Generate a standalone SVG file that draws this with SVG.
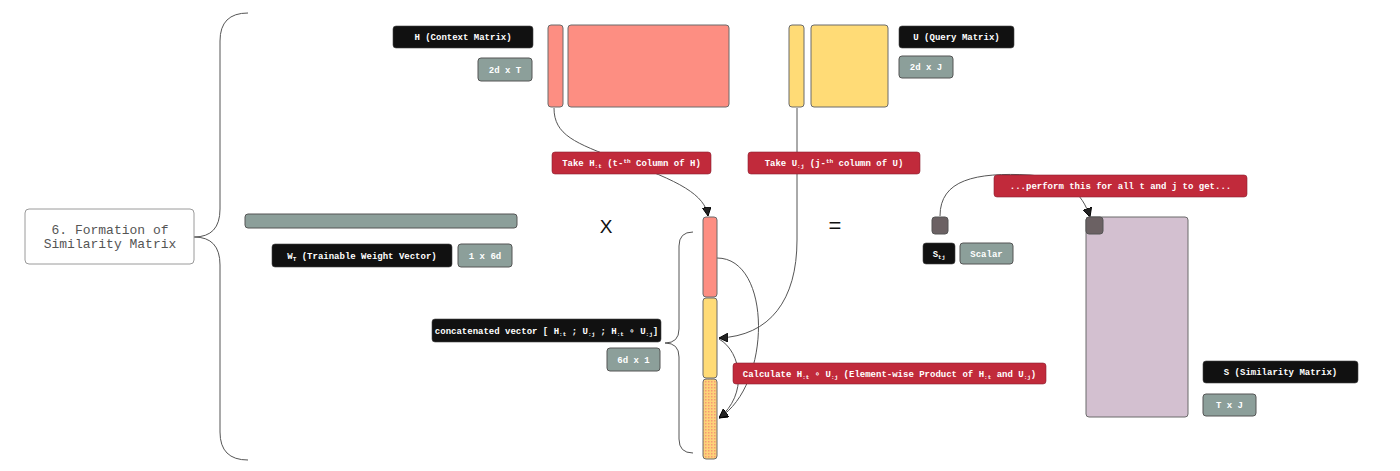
<svg xmlns="http://www.w3.org/2000/svg" width="1400" height="471" viewBox="0 0 1400 471">
<style>
.lbl{font-family:"Liberation Mono","DejaVu Sans Mono",monospace;font-size:9px;font-weight:bold;fill:#ffffff;text-anchor:middle}
.blk{fill:#111111;stroke:#444;stroke-width:0.6}
.gry{fill:#8c9f9a;stroke:#555;stroke-width:1}
.red{fill:#c12a3b;stroke:#8a2030;stroke-width:0.6}
.sal{fill:#fd8e82;stroke:#6b6b6b;stroke-width:1}
.yel{fill:#ffdb76;stroke:#6b6b6b;stroke-width:1}
.dk{fill:#6b6163;stroke:#555;stroke-width:1}
.conn{fill:none;stroke:#555555;stroke-width:1}
.sub{font-size:6px}
</style>
<defs>
<marker id="arr" viewBox="0 0 10 10" refX="10" refY="5" markerWidth="9" markerHeight="9" markerUnits="userSpaceOnUse" orient="auto">
<path d="M0,0 L10,5 L0,10 z" fill="#222" stroke="#000" stroke-width="1"/>
</marker>
<pattern id="dots" width="3" height="3" patternUnits="userSpaceOnUse">
<rect width="3" height="3" fill="#fdd27a"/>
<rect x="0" y="0" width="1.5" height="1.5" fill="#f59a72"/>
</pattern>
</defs>
<rect width="1400" height="471" fill="#ffffff"/>

<g id="connectors">
<path class="conn" d="M248 13 Q220 13 220 41 L220 209 Q220 237 194 237 Q220 237 220 265 L220 432 Q220 460 248 460"/>
<path class="conn" d="M693 232 Q679 232 679 246 L679 329 Q679 343 665 343 Q679 343 679 357 L679 439 Q679 453 693 453"/>
<path class="conn" d="M554 108 C554 135 575 143 620 160 C680 181 705 195 708 216" marker-end="url(#arr)"/>
<path class="conn" d="M797 108 L797 240 C797 300 770 336 719 338" marker-end="url(#arr)"/>
<path class="conn" d="M717 258 C772 258 772 385 719 418" marker-end="url(#arr)"/>
<path class="conn" d="M719 339 C742 352 748 395 719 418" marker-end="url(#arr)"/>
<path class="conn" d="M940 216 C940 180 975 172 1030 175 C1065 178 1082 192 1090 217" marker-end="url(#arr)"/>
</g>

<g id="node-title">
<rect x="25" y="209" width="169" height="55" rx="4" fill="#ffffff" stroke="#9a9a9a" stroke-width="1"/>
<text x="110" y="234" font-family="Liberation Mono, DejaVu Sans Mono, monospace" font-size="13" fill="#555555" text-anchor="middle">6. Formation of</text>
<text x="110" y="248" font-family="Liberation Mono, DejaVu Sans Mono, monospace" font-size="13" fill="#555555" text-anchor="middle">Similarity Matrix</text>
</g>

<g id="node-H">
<rect class="sal" x="548" y="25" width="15" height="82" rx="3"/>
<rect class="sal" x="568" y="25" width="161" height="82" rx="3"/>
<rect class="blk" x="393" y="26" width="140" height="22" rx="3"/>
<text class="lbl" x="463" y="40">H (Context Matrix)</text>
<rect class="gry" x="478" y="58" width="54" height="23" rx="3"/>
<text class="lbl" x="505" y="72.5">2d x T</text>
</g>

<g id="node-U">
<rect class="yel" x="789" y="25" width="15" height="82" rx="3"/>
<rect class="yel" x="811" y="25" width="77" height="82" rx="3"/>
<rect class="blk" x="899" y="26" width="115" height="22" rx="3"/>
<text class="lbl" x="956.5" y="40">U (Query Matrix)</text>
<rect class="gry" x="899" y="56" width="54" height="22" rx="3"/>
<text class="lbl" x="926" y="70">2d x J</text>
</g>

<g id="node-takeH">
<rect class="red" x="552" y="152" width="159" height="22" rx="3"/>
<text class="lbl" x="631.5" y="166">Take H<tspan class="sub" dy="2">:t</tspan><tspan dy="-2"> (t-</tspan><tspan class="sub" dy="-3">th</tspan><tspan dy="3"> Column of H)</tspan></text>
</g>

<g id="node-takeU">
<rect class="red" x="748" y="152" width="172" height="22" rx="3"/>
<text class="lbl" x="834" y="166">Take U<tspan class="sub" dy="2">:j</tspan><tspan dy="-2"> (j-</tspan><tspan class="sub" dy="-3">th</tspan><tspan dy="3"> column of U)</tspan></text>
</g>

<g id="node-W">
<rect class="gry" x="245" y="214" width="272" height="14" rx="3"/>
<rect class="blk" x="272" y="244" width="180" height="23" rx="3"/>
<text class="lbl" x="362" y="258.5">W<tspan class="sub" dy="2">T</tspan><tspan dy="-2"> (Trainable Weight Vector)</tspan></text>
<rect class="gry" x="458" y="244" width="54" height="23" rx="3"/>
<text class="lbl" x="485" y="258.5">1 x 6d</text>
</g>

<g id="node-ops">
<text x="606" y="233" font-family="Liberation Sans, Arial, sans-serif" font-size="19" fill="#111" text-anchor="middle">X</text>
<text x="835" y="233" font-family="Liberation Sans, Arial, sans-serif" font-size="22" fill="#111" text-anchor="middle">=</text>
</g>

<g id="node-concat">
<rect class="sal" x="703" y="217" width="14" height="80" rx="3"/>
<rect class="yel" x="703" y="298" width="14" height="80" rx="3"/>
<rect x="703" y="379" width="14" height="80" rx="3" fill="url(#dots)" stroke="#6b6b6b" stroke-width="1"/>
<rect class="blk" x="432" y="319" width="229" height="23" rx="3"/>
<text class="lbl" x="546.5" y="333.5">concatenated vector [ H<tspan class="sub" dy="2">:t</tspan><tspan dy="-2"> ; U</tspan><tspan class="sub" dy="2">:j</tspan><tspan dy="-2"> ; H</tspan><tspan class="sub" dy="2">:t</tspan><tspan dy="-2"> ∘ U</tspan><tspan class="sub" dy="2">:j</tspan><tspan dy="-2">]</tspan></text>
<rect class="gry" x="607" y="348" width="53" height="23" rx="3"/>
<text class="lbl" x="633.5" y="362.5">6d x 1</text>
</g>

<g id="node-calc">
<rect class="red" x="733" y="363" width="313" height="21" rx="3"/>
<text class="lbl" x="889.5" y="376.5">Calculate H<tspan class="sub" dy="2">:t</tspan><tspan dy="-2"> ∘  U</tspan><tspan class="sub" dy="2">:j</tspan><tspan dy="-2"> (Element-wise Product of H</tspan><tspan class="sub" dy="2">:t</tspan><tspan dy="-2"> and U</tspan><tspan class="sub" dy="2">:j</tspan><tspan dy="-2">)</tspan></text>
</g>

<g id="node-Stj">
<rect class="dk" x="932" y="217" width="16" height="17" rx="3"/>
<rect class="blk" x="923" y="243" width="32" height="21" rx="3"/>
<text class="lbl" x="939" y="256.5">S<tspan class="sub" dy="2">tj</tspan></text>
<rect class="gry" x="960" y="243" width="53" height="21" rx="3"/>
<text class="lbl" x="986.5" y="256.5">Scalar</text>
</g>

<g id="node-perform">
<rect class="red" x="994" y="175" width="253" height="22" rx="3"/>
<text class="lbl" x="1120.5" y="189">...perform this for all t and j to get...</text>
</g>

<g id="node-S">
<rect x="1086" y="217" width="102" height="200" rx="3" fill="#d3c0d0" stroke="#6b6b6b" stroke-width="1"/>
<rect class="dk" x="1086" y="217" width="17" height="17" rx="3"/>
<rect class="blk" x="1203" y="361" width="155" height="22" rx="3"/>
<text class="lbl" x="1280.5" y="375">S (Similarity Matrix)</text>
<rect class="gry" x="1203" y="394" width="53" height="22" rx="3"/>
<text class="lbl" x="1229.5" y="408">T x J</text>
</g>
</svg>
